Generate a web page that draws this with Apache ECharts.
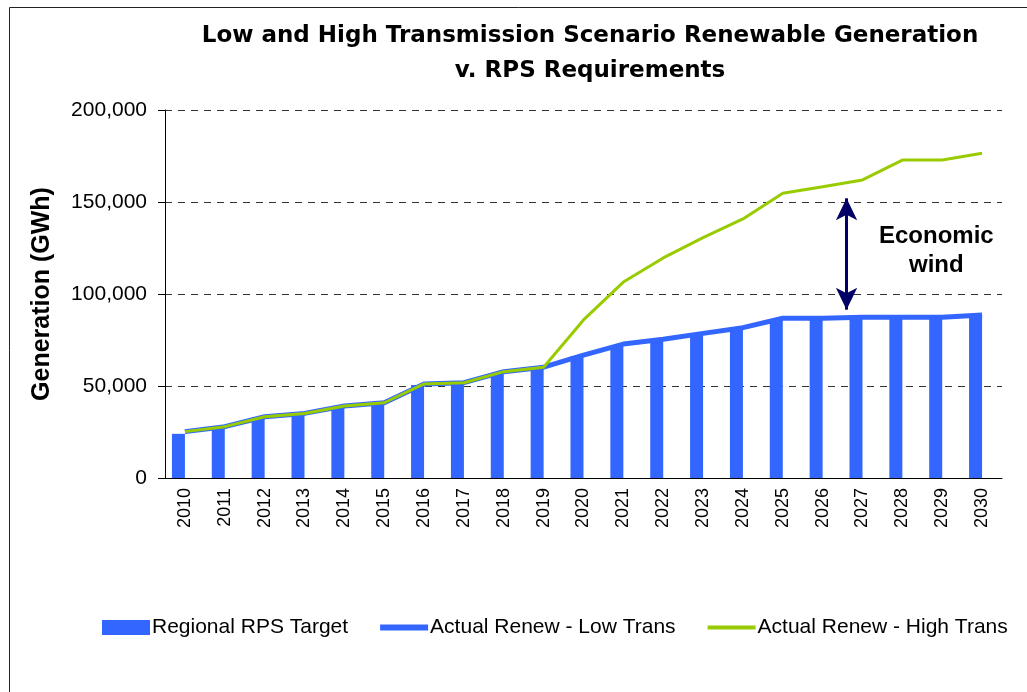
<!DOCTYPE html>
<html>
<head>
<meta charset="utf-8">
<script src="https://cdn.jsdelivr.net/npm/echarts@6/dist/echarts.min.js"></script>
<style>
  html, body { margin: 0; padding: 0; background: #fff; }
  #chart { width: 1027px; height: 692px; }
</style>
</head>
<body>
<div id="chart"></div>
<script>
// categories + values
var years = ['2010','2011','2012','2013','2014','2015','2016','2017','2018','2019','2020',
             '2021','2022','2023','2024','2025','2026','2027','2028','2029','2030'];
var rpsTarget = [24000, 27000, 33000, 34500, 38500, 39800, 50500, 51800, 56500, 59600, 66300,
                 71400, 75000, 78100, 80800, 86000, 86000, 86800, 86800, 86800, 88600];
var lowTrans = [25200, 27900, 33300, 35100, 39100, 40900, 51100, 51800, 57800, 60200, 66800,
                72800, 75400, 78600, 81700, 86800, 86800, 87300, 87300, 87300, 88600];
var highTrans = [25200, 27900, 33300, 35100, 39100, 40900, 51100, 51800, 57800, 60200, 85900,
                 106500, 119600, 130600, 140800, 154700, 158300, 162000, 172800, 172800, 176500];
var yTicks = [0, 50000, 100000, 150000, 200000];
// annotation: double arrow between the two cases
var arrowX = 2026.6;
var arrowFrom = 152000, arrowTo = 91500;

var blue = '#3366FF', green = '#99CC00', navy = '#000066';
var font = 'Liberation Sans, Arial, sans-serif';
var myChart = echarts.init(document.getElementById('chart'));

myChart.setOption({
    animation: false,
    textStyle: { fontFamily: font, color: '#000' },
    title: {
        text: 'Low and High Transmission Scenario Renewable Generation\nv. RPS Requirements',
        left: 585, top: 14, textAlign: 'center',
        textStyle: { fontSize: 23, fontWeight: 'bold', lineHeight: 35, color: '#000',
                     fontFamily: 'DejaVu Sans, sans-serif' }
    },
    legend: {
        data: [
            { name: 'Regional RPS Target', icon: 'rect' },
            { name: 'Actual Renew - Low Trans', icon: 'path://M0,0H50V6H0Z' },
            { name: 'Actual Renew - High Trans', icon: 'path://M0,0H50V4H0Z' }
        ],
        left: 97, top: 612,
        itemWidth: 48, itemHeight: 15, itemGap: 32,
        textStyle: { fontSize: 21, color: '#000', padding: [0, 0, 0, -3] }
    },
    graphic: [
        { type: 'rect', shape: { x: 9.5, y: 7.5, width: 1100, height: 1000 },
          style: { fill: 'none', stroke: '#222', lineWidth: 1 }, silent: true },
        { type: 'text', left: 879, top: 222,
          style: { text: 'Economic\nwind', fontSize: 24, fontWeight: 'bold', lineHeight: 29,
                   textAlign: 'center', fill: '#000', fontFamily: font } }
    ],
    grid: { left: 165, right: 25, top: 110, bottom: 214 },
    xAxis: [
        {
            type: 'category', data: years, boundaryGap: true,
            axisLine: { lineStyle: { color: '#000', width: 1 } },
            axisTick: { interval: 0, length: 6, lineStyle: { color: '#000' } },
            axisLabel: { rotate: 90, interval: 0, fontSize: 18, color: '#000', margin: 10 }
        },
        { type: 'value', min: 2009.5, max: 2030.5, show: false }
    ],
    yAxis: {
        type: 'value', min: yTicks[0], max: yTicks[yTicks.length - 1], interval: 50000,
        name: 'Generation (GWh)', nameLocation: 'middle', nameGap: 110, nameRotate: 90,
        nameTextStyle: { fontSize: 25, fontWeight: 'bold', color: '#000' },
        axisLine: { show: true, lineStyle: { color: '#000' } },
        axisTick: { show: true, length: 7, lineStyle: { color: '#000' } },
        axisLabel: { fontSize: 21, color: '#000', margin: 18,
                     formatter: function (v) { return v.toLocaleString('en-US'); } },
        splitLine: { lineStyle: { color: '#333', type: [7, 6], width: 1 } }
    },
    series: [
        {
            name: 'Regional RPS Target', type: 'bar', data: rpsTarget,
            barWidth: 13, barGap: '0%', itemStyle: { color: blue }
        },
        {   // empty second slot so the target bars sit left of centre, like the original
            name: 'spacer', type: 'bar', data: years.map(function () { return '-'; }),
            barWidth: 13, barGap: '0%'
        },
        {
            name: 'Actual Renew - Low Trans', type: 'line', data: lowTrans,
            symbol: 'none', lineStyle: { color: blue, width: 5 }, itemStyle: { color: blue }, z: 3
        },
        {
            name: 'Actual Renew - High Trans', type: 'line', data: highTrans,
            symbol: 'none', lineStyle: { color: green, width: 3 }, itemStyle: { color: green }, z: 4
        },
        {
            name: 'arrow', type: 'line', xAxisIndex: 1, data: [], z: 5,
            markLine: {
                silent: true, symbol: ['arrow', 'arrow'], symbolSize: [16, 22],
                label: { show: false },
                lineStyle: { color: navy, width: 3, type: 'solid' },
                data: [[{ coord: [arrowX, arrowFrom] }, { coord: [arrowX, arrowTo] }]]
            }
        }
    ]
});
</script>
</body>
</html>
